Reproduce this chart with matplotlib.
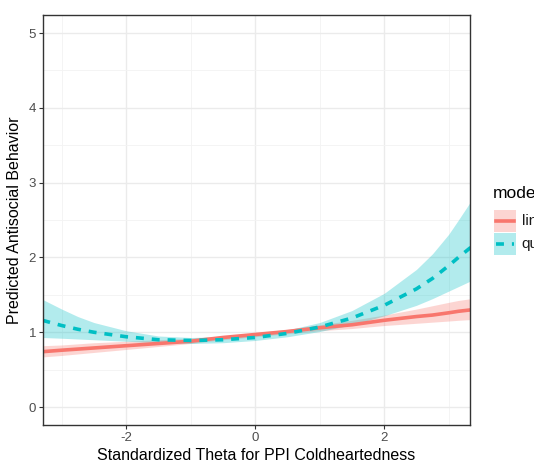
import matplotlib.pyplot as plt
from matplotlib.patches import Rectangle
from matplotlib.lines import Line2D

plt.rcParams['font.family'] = ['Liberation Sans', 'DejaVu Sans']
plt.rcParams['axes.unicode_minus'] = False

# theta values and model predictions
theta = [-3.3, -3.0, -2.75, -2.5, -2.0, -1.5, -1.0, -0.5, 0.0, 0.5, 1.0, 1.5, 2.0, 2.5, 2.75,
         3.0, 3.15, 3.35]

lin_fit = [0.74, 0.76, 0.775, 0.79, 0.82, 0.85, 0.88, 0.93, 0.97, 1.01, 1.06, 1.10, 1.16, 1.21,
           1.23, 1.26, 1.28, 1.30]
lin_lo = [0.67, 0.69, 0.71, 0.73, 0.77, 0.81, 0.85, 0.90, 0.94, 0.98, 1.02, 1.05, 1.09, 1.12,
          1.135, 1.15, 1.16, 1.17]
lin_hi = [0.82, 0.83, 0.845, 0.86, 0.88, 0.90, 0.92, 0.95, 0.99, 1.04, 1.10, 1.16, 1.23, 1.31,
          1.355, 1.40, 1.425, 1.45]

quad_fit = [1.16, 1.09, 1.04, 1.00, 0.94, 0.90, 0.89, 0.90, 0.93, 0.985, 1.07, 1.19, 1.36, 1.58,
            1.72, 1.89, 2.00, 2.14]
quad_lo = [0.93, 0.92, 0.91, 0.90, 0.88, 0.86, 0.85, 0.86, 0.89, 0.94, 1.01, 1.10, 1.22, 1.36,
           1.45, 1.55, 1.61, 1.69]
quad_hi = [1.44, 1.31, 1.21, 1.13, 1.02, 0.95, 0.93, 0.94, 0.97, 1.03, 1.13, 1.29, 1.52, 1.84,
           2.05, 2.31, 2.50, 2.76]

model_labels = ['linear', 'quadratic']
red = '#F8766D'
teal = '#00BFC4'

fig = plt.figure(figsize=(5.34, 4.69), dpi=100)
ax = fig.add_axes([0.0805, 0.0938, 0.7996, 0.874])

# bands
ax.fill_between(theta, lin_lo, lin_hi, color=red, alpha=0.3, lw=0)
ax.fill_between(theta, quad_lo, quad_hi, color=teal, alpha=0.3, lw=0)
# lines
ax.plot(theta, lin_fit, color=red, lw=2.6, solid_capstyle='butt')
ax.plot(theta, quad_fit, color=teal, lw=2.6, dashes=(2.2, 2.2))

ax.set_xlim(-3.29, 3.33)
ax.set_ylim(-0.24, 5.24)
ax.set_xticks([-2, 0, 2])
ax.set_xticks([-3, -1, 1, 3], minor=True)
ax.set_yticks([0, 1, 2, 3, 4, 5])
ax.set_yticks([0.5, 1.5, 2.5, 3.5, 4.5], minor=True)
ax.grid(True, which='major', color='#EBEBEB', lw=1.0)
ax.grid(True, which='minor', color='#F3F3F3', lw=0.6)
ax.set_axisbelow(True)
for s in ax.spines.values():
    s.set_color('#333333')
    s.set_linewidth(1.0)
ax.tick_params(which='major', length=3, width=0.8, color='#333333',
               labelcolor='#4D4D4D', labelsize=9.5, pad=2)
ax.tick_params(which='minor', length=0)

ax.set_xlabel('Standardized Theta for PPI Coldheartedness', fontsize=11.5, labelpad=3)
ax.set_ylabel('Predicted Antisocial Behavior', fontsize=11.5, labelpad=5)

# legend, drawn by hand (cut off at the figure edge like the original)
fig.text(0.923, 0.588, 'model', fontsize=12.5, va='center', ha='left')
keys = [(0.505, red, '-'), (0.456, teal, '--')]
for (y0, col, ls), lab in zip(keys, model_labels):
    fig.add_artist(Rectangle((0.925, y0), 0.041, 0.047, transform=fig.transFigure,
                             facecolor=col, alpha=0.3, lw=0))
    ln = Line2D([0.928, 0.963], [y0 + 0.0235, y0 + 0.0235], transform=fig.transFigure,
                color=col, lw=2.6)
    if ls == '--':
        ln.set_dashes((2.2, 2.2))
    fig.add_artist(ln)
    fig.text(0.977, y0 + 0.0235, lab, fontsize=11, color='#1A1A1A', va='center', ha='left')

fig.savefig('out.png', dpi=100)
